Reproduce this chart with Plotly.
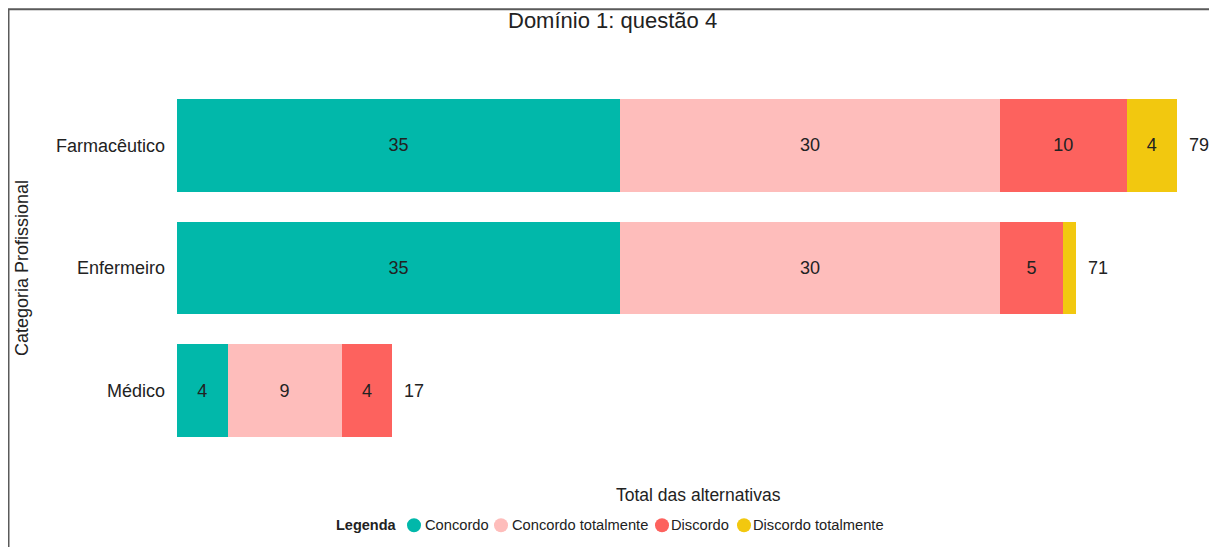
import plotly.graph_objects as go

categories = ["Médico", "Enfermeiro", "Farmacêutico"]
series_names = ["Concordo", "Concordo totalmente", "Discordo", "Discordo totalmente"]
concordo = [4, 35, 35]
concordo_totalmente = [9, 30, 30]
discordo = [4, 5, 10]
discordo_totalmente = [0, 1, 4]
colors = ["#01B8AA", "#FEBDBB", "#FD625E", "#F2C80F"]

series_values = [concordo, concordo_totalmente, discordo, discordo_totalmente]
totals = [sum(v) for v in zip(*series_values)]

OFF = 8  # browser body margin
W, H = 1217 - OFF, 547 - OFF
L, R = 177 - OFF, 1205 - OFF
T, B = 83.5 - OFF, 452.5 - OFF
xmax = 81.2

FONT = "Liberation Sans, Arial, sans-serif"
TXT = "#222222"


def pxx(x):
    return (x - OFF - L) / (R - L)


def pxy(y):
    return (B - (y - OFF)) / (B - T)


fig = go.Figure()
for name, vals, col in zip(series_names, series_values, colors):
    labels = [str(v) if v > 1 else "" for v in vals]
    fig.add_trace(go.Bar(
        y=categories, x=vals, orientation="h", name=name,
        marker=dict(color=col, line=dict(width=0)),
        text=labels, textposition="inside", insidetextanchor="middle",
        textangle=0, constraintext="none",
        textfont=dict(color=TXT, size=18, family=FONT),
        showlegend=False, hoverinfo="x+name",
    ))

for cat, tot in zip(categories, totals):
    fig.add_annotation(x=tot, y=cat, text=str(tot), showarrow=False,
                       xanchor="left", xshift=10,
                       font=dict(size=18, color=TXT, family=FONT))

# outer frame
fig.add_shape(type="rect", xref="paper", yref="paper",
              x0=pxx(8.5), x1=pxx(1212), y0=pxy(600), y1=pxy(8.5),
              line=dict(color="#5A5A5A", width=2), fillcolor="rgba(0,0,0,0)",
              layer="above")

fig.add_annotation(xref="paper", yref="paper", x=pxx(612), y=pxy(20),
                   text="Domínio 1: questão 4", showarrow=False,
                   font=dict(size=22, color=TXT, family=FONT),
                   xanchor="center", yanchor="middle")
fig.add_annotation(xref="paper", yref="paper", x=pxx(698), y=pxy(496),
                   text="Total das alternativas", showarrow=False,
                   font=dict(size=17.5, color=TXT, family=FONT),
                   xanchor="center", yanchor="middle")
fig.add_annotation(xref="paper", yref="paper", x=pxx(22), y=pxy(268),
                   text="Categoria Profissional", showarrow=False, textangle=-90,
                   font=dict(size=18, color=TXT, family=FONT),
                   xanchor="center", yanchor="middle")

# legend (manual, circles + text)
leg_y = 526
fig.add_annotation(xref="paper", yref="paper", x=pxx(334), y=pxy(leg_y),
                   text="<b>Legenda</b>", showarrow=False, xanchor="left", yanchor="middle",
                   font=dict(size=14.5, color=TXT, family=FONT))
circle_cx = [414, 501, 662, 744]
text_x = [423, 510, 669, 751]
for name, col, cx, tx in zip(series_names, colors, circle_cx, text_x):
    fig.add_shape(type="circle", xref="paper", yref="paper",
                  x0=pxx(cx - 7), x1=pxx(cx + 7), y0=pxy(leg_y + 7), y1=pxy(leg_y - 7),
                  fillcolor=col, line=dict(width=0))
    fig.add_annotation(xref="paper", yref="paper", x=pxx(tx), y=pxy(leg_y),
                       text=name, showarrow=False, xanchor="left", yanchor="middle",
                       font=dict(size=14.7, color=TXT, family=FONT))

fig.update_layout(
    width=W, height=H,
    barmode="stack", bargap=0.244,
    margin=dict(l=L, r=W - R, t=T, b=H - B, autoexpand=False),
    paper_bgcolor="white", plot_bgcolor="white",
    font=dict(family=FONT, color=TXT),
    xaxis=dict(range=[0, xmax], showgrid=False, zeroline=False, showticklabels=False,
               showline=False, ticks=""),
    yaxis=dict(categoryorder="array", categoryarray=categories, range=[-0.5, 2.5],
               showgrid=False, zeroline=False, showline=False, ticks="",
               tickfont=dict(size=18, color=TXT, family=FONT), ticklabelstandoff=11),
    showlegend=False,
)

fig.write_html("out.html")
